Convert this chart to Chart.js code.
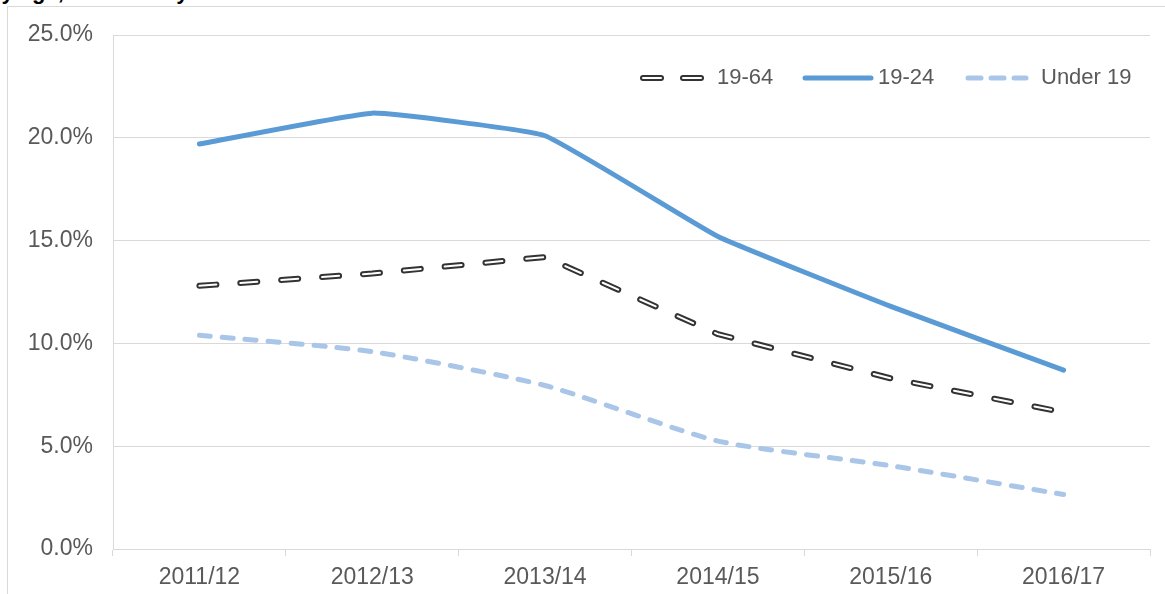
<!DOCTYPE html>
<html>
<head>
<meta charset="utf-8">
<script src="https://cdn.jsdelivr.net/npm/chart.js@4"></script>
<style>
    html, body { margin: 0; padding: 0; background: #fff; overflow: hidden; }
    #wrap { position: relative; width: 1165px; height: 594px; }
    #frame { position: absolute; left: 7px; top: 6px; width: 1200px; height: 600px;
             border-left: 1px solid #d9d9d9; border-top: 1px solid #d9d9d9; }
    #title { position: absolute; left: -12px; top: -21px; white-space: nowrap;
             font: bold 22px "Liberation Sans", Arial, sans-serif; color: #000; }
    canvas { position: absolute; left: 0; top: 0; }
</style>
</head>
<body>
<div id="wrap">
    <div id="frame"></div>
    <div id="title">by age, academic years 2011/12 to 2016/17</div>
    <canvas id="chart" width="1165" height="594"></canvas>
</div>
<script>
'use strict';

const years = ['2011/12', '2012/13', '2013/14', '2014/15', '2015/16', '2016/17'];
const age19to64 = [12.8, 13.4, 14.2, 10.45, 8.3, 6.65];
const age19to24 = [19.7, 21.2, 20.1, 15.2, 11.8, 8.7];
const under19 = [10.4, 9.6, 7.95, 5.25, 4.05, 2.65];
const yTicks = [0, 5, 10, 15, 20, 25];

const FONT = '"Liberation Sans", Arial, sans-serif';
const TEXT = '#595959';
const GRID = '#d9d9d9';
const DARK = '#333333';
const BLUE = '#5b9bd5';
const LIGHT = '#a9c5e8';

// legend drawn by hand: Excel style keys (hollow dashes etc.)
const legendPlugin = {
    id: 'excelLegend',
    afterDraw(chart) {
        const ctx = chart.ctx;
        const y = 78;
        ctx.save();
        ctx.lineCap = 'round';

        // 19-64 hollow dashes
        [[643, 661], [683, 701]].forEach(([a, b]) => {
            ctx.strokeStyle = DARK; ctx.lineWidth = 6;
            ctx.beginPath(); ctx.moveTo(a, y); ctx.lineTo(b, y); ctx.stroke();
            ctx.strokeStyle = '#fff'; ctx.lineWidth = 2;
            ctx.beginPath(); ctx.moveTo(a, y); ctx.lineTo(b, y); ctx.stroke();
        });

        // 19-24 solid
        ctx.strokeStyle = BLUE; ctx.lineWidth = 5;
        ctx.beginPath(); ctx.moveTo(805, y); ctx.lineTo(871, y); ctx.stroke();

        // Under 19 dashed
        ctx.strokeStyle = LIGHT;
        [[968, 981], [991, 1004], [1014, 1026]].forEach(([a, b]) => {
            ctx.beginPath(); ctx.moveTo(a, y); ctx.lineTo(b, y); ctx.stroke();
        });

        ctx.fillStyle = TEXT;
        ctx.font = '22px ' + FONT;
        ctx.textBaseline = 'middle';
        ctx.fillText('19-64', 717, y);
        ctx.fillText('19-24', 878, y);
        ctx.fillText('Under 19', 1041, y);
        ctx.restore();
    }
};

const lineBase = {
    pointRadius: 0,
    pointHoverRadius: 0,
    fill: false,
    borderCapStyle: 'round',
    borderJoinStyle: 'round'
};

new Chart(document.getElementById('chart'), {
    type: 'line',
    data: {
        labels: years,
        datasets: [
            Object.assign({}, lineBase, {
                label: '19-64',
                data: age19to64,
                borderColor: DARK,
                borderWidth: 6,
                borderDash: [17, 24],
                tension: 0,
                order: 4
            }),
            Object.assign({}, lineBase, {
                label: '19-64 inner',
                data: age19to64,
                borderColor: '#ffffff',
                borderWidth: 2,
                borderDash: [17, 24],
                tension: 0,
                order: 3
            }),
            Object.assign({}, lineBase, {
                label: '19-24',
                data: age19to24,
                borderColor: BLUE,
                borderWidth: 5,
                tension: 0.1,
                order: 2
            }),
            Object.assign({}, lineBase, {
                label: 'Under 19',
                data: under19,
                borderColor: LIGHT,
                borderWidth: 5,
                borderDash: [11, 12],
                tension: 0.2,
                order: 1
            })
        ]
    },
    options: {
        responsive: false,
        animation: false,
        layout: { padding: { left: 0, top: 35, right: 15, bottom: 0 } },
        plugins: {
            legend: { display: false },
            tooltip: { enabled: false }
        },
        scales: {
            x: {
                offset: true,
                grid: {
                    drawOnChartArea: false,
                    drawTicks: true,
                    tickLength: 7,
                    color: GRID,
                    offset: true
                },
                border: { color: GRID, width: 1 },
                ticks: {
                    color: TEXT,
                    font: { family: FONT, size: 23 },
                    padding: 8,
                    maxRotation: 0
                },
                afterFit(scale) { scale.height = 45; }
            },
            y: {
                min: 0,
                max: 25,
                afterBuildTicks(scale) {
                    scale.ticks = yTicks.map(v => ({ value: v }));
                },
                grid: { color: GRID, lineWidth: 1, drawTicks: false },
                border: { color: GRID, width: 1 },
                ticks: {
                    color: TEXT,
                    font: { family: FONT, size: 23 },
                    padding: 20,
                    callback: v => v.toFixed(1) + '%'
                },
                afterFit(scale) { scale.width = 113; }
            }
        }
    },
    plugins: [legendPlugin]
});
</script>
</body>
</html>
